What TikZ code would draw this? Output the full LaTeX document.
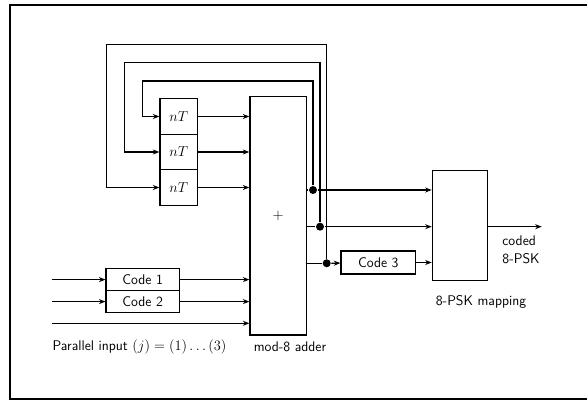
\documentclass[tikz,border=0pt]{standalone}
\usetikzlibrary{arrows.meta,positioning}
\newcommand{\lblsize}{\fontsize{14}{16.5}\selectfont}
\begin{document}
\begin{tikzpicture}[x=1pt,y=-1pt,line width=1.2pt,
  blk/.style={draw,minimum width=#1,inner sep=0pt,font=\sffamily\lblsize},
  arr/.style={-{Stealth[length=6.5pt,width=5pt]}},
  dot/.style={circle,fill,inner sep=0pt,minimum size=8pt},
  txt/.style={font=\sffamily\lblsize,inner sep=0pt}]

   \useasboundingbox (0,0) rectangle (587,403);
   \draw (600,5) -- (10,5) -- (10,399) -- (600,399);

   % delay cells and adder
   \node[blk=37.7pt,minimum height=35.5pt] (d1) at (178.8,116.5) {$nT$};
   \node[blk=37.7pt,minimum height=35.5pt] (d2) at (178.8,152) {$nT$};
   \node[blk=37.7pt,minimum height=35.5pt] (d3) at (178.8,187.5) {$nT$};
   \node[blk=56.5pt,minimum height=238.3pt] (add) at (278.2,215.8) {$+$};

   % codes and mapping
   \node[blk=73.3pt,minimum height=22pt] (c1) at (142.7,279.6) {Code 1};
   \node[blk=73.3pt,minimum height=22pt] (c2) at (142.7,301.6) {Code 2};
   \node[blk=74.7pt,minimum height=23pt] (c3) at (378.3,262.5) {Code 3};
   \node[blk=55.4pt,minimum height=110pt] (map) at (460,225.7) {};

   \coordinate (in1) at (51.7,279.6);
   \coordinate (in2) at (51.7,301.6);
   \coordinate (in3) at (51.7,323.3);
   \coordinate (out) at (541.7,226.7);

   \node[dot] (p1) at (313,190) {};
   \node[dot] (p2) at (320,226.7) {};
   \node[dot] (p3) at (326.7,263.3) {};

   % inputs
   \draw[arr] (in1) -- (c1);
   \draw[arr] (in2) -- (c2);
   \draw[arr] (c1) -- (add.west |- c1);
   \draw[arr] (c2) -- (add.west |- c2);
   \draw[arr] (in3) -- (add.west |- in3);
   \foreach \i in {1,2,3}
     \draw[arr] (d\i) -- (add.west |- d\i);

   % outputs
   \draw (add.east |- p1) -- (p1);
   \draw[arr] (p1) -- (map.west |- p1);
   \draw (add.east |- p2) -- (p2);
   \draw[arr] (p2) -- (map.west |- p2);
   \draw (add.east |- p3) -- (p3);
   \draw[arr] (p3) -- (c3);
   \draw[arr] (c3) -- (map.west |- c3);
   \draw[arr] (map.east |- out) -- (out);

   % feedback
   \draw[arr] (p1) -- (313,81) -- (142.7,81) |- (d1);
   \draw[arr] (p2) -- (320,62.7) -- (124.3,62.7) |- (d2);
   \draw[arr] (p3) -- (326.7,44.7) -- (106.7,44.7) |- (d3);

   % labels
   \node[txt,anchor=west] (lin) at (52,347) {Parallel input $(j)=(1)\ldots(3)$};
   \node[txt] (ladd) at (290,347) {mod-8 adder};
   \node[txt] (lmap) at (481,302) {8-PSK mapping};
   \node[txt,align=left] (lout) at (521,250) {coded\\[1pt]8-PSK};

\end{tikzpicture}
\end{document}
